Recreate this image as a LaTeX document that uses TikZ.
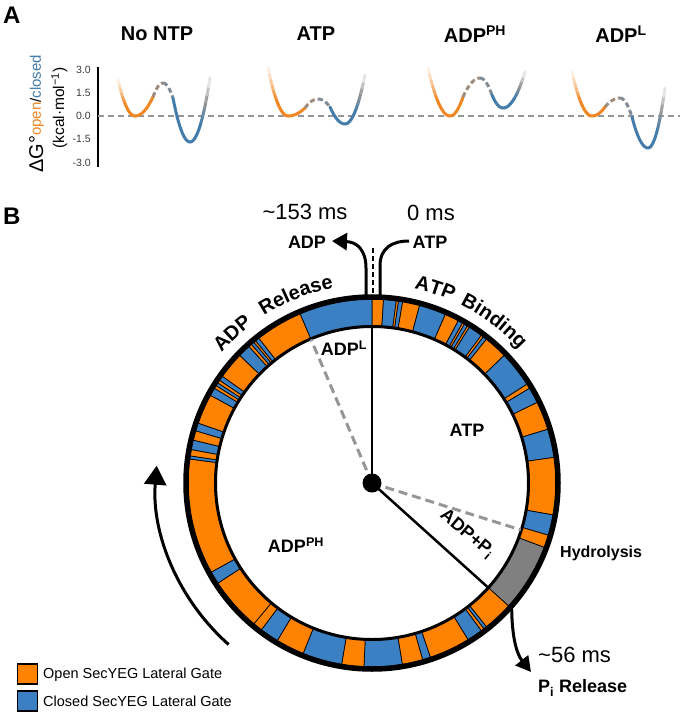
\documentclass[tikz,border=0pt]{standalone}
\usepackage{fontspec}
\setmainfont{Liberation Sans}
\usetikzlibrary{arrows.meta,decorations.text}
\definecolor{ringO}{RGB}{255,131,0}
\definecolor{ringB}{RGB}{58,128,194}
\definecolor{ringG}{RGB}{128,128,128}
\definecolor{curO}{RGB}{240,135,35}
\definecolor{curB}{RGB}{68,125,172}
\definecolor{curG}{RGB}{150,150,150}
\definecolor{barrL}{RGB}{160,140,125}
\definecolor{barrR}{RGB}{130,140,152}
\definecolor{dashG}{RGB}{150,150,150}
\definecolor{tickC}{RGB}{60,60,60}
\begin{document}
\begin{tikzpicture}[x=1pt,y=-1pt,
  curve/.style={line width=3pt, line cap=round},
  boldlab/.style={font=\fontsize{18}{20}\selectfont\bfseries, inner sep=0pt},
  ttl/.style={font=\fontsize{20}{22}\selectfont\bfseries, inner sep=0pt},
  panlab/.style={font=\fontsize{24}{26}\selectfont\bfseries, inner sep=0pt, anchor=west},
  ticklab/.style={font=\fontsize{10.5}{12}\selectfont, text=tickC, anchor=east, inner sep=0pt},
  timelab/.style={font=\fontsize{22}{24}\selectfont, inner sep=0pt},
  legtext/.style={font=\fontsize{14.5}{16}\selectfont, anchor=west, inner sep=0pt},
  legbox/.style={draw=black, line width=1.2pt, minimum size=20pt, inner sep=0pt},
  sector/.style={draw=black, line width=0.7pt},
  gdash/.style={draw=dashG, line width=3pt, dash pattern=on 9pt off 5pt},
  blk/.style={line width=3pt},
  ]
\useasboundingbox (0,0) rectangle (680,713);
\fill[white] (0,0) rectangle (680,713);

% ---------------- Panel A ----------------
\node[panlab] (A) at (3,15) {A};
\node[ttl] (t1) at (157,34) {No NTP};
\node[ttl] (t2) at (316,34) {ATP};
\node[ttl] (t3) at (475,34) {ADP\textsuperscript{PH}};
\node[ttl] (t4) at (621,34) {ADP\textsuperscript{L}};

\coordinate (axT) at (98,67);
\coordinate (axB) at (98,167);
\draw[line width=1.5pt] (axT) -- (axB);
\coordinate (zL) at (98,116);
\coordinate (zR) at (680,116);
\draw[dashG, line width=1.2pt, dash pattern=on 6pt off 4pt] (zL) -- (zR);
\node[ticklab] (k1) at (91,69.5) {3.0};
\node[ticklab] (k2) at (91,92.75) {1.5};
\node[ticklab] (k3) at (91,116) {0.0};
\node[ticklab] (k4) at (91,139.25) {-1.5};
\node[ticklab] (k5) at (91,162.5) {-3.0};

\node[rotate=90, anchor=base, inner sep=0pt] (ylab1) at (43,114)
  {\fontsize{20}{22}\selectfont ΔG°\raisebox{2pt}{\fontsize{15}{16}\selectfont\textcolor{curO}{open}/\textcolor{curB}{closed}}};
\node[rotate=90, anchor=base, inner sep=0pt] (ylab2) at (64,108)
  {\fontsize{15.5}{16}\selectfont (kcal·mol\textsuperscript{−1})};

\foreach \xl/\yl/\xo/\xa/\ya/\xp/\yp/\xb/\yb/\xm/\ym/\xr/\yr in {
  118/80/135/153/97/163/83/173/98/190/142/210/78,
  268/68/288/305/108/318/99/330/107/345/124/365/75,
  428/68/450/463/97/480/78/492/95/503/108/525/72,
  572/72/592/605/107/620/98/632/117/648/148/665/88}{
  % orange left branch, fading towards the top
  \foreach \j in {0,...,13}{
    \pgfmathsetmacro\ta{\j/14}
    \pgfmathsetmacro\tb{(\j+1)/14}
    \pgfmathsetmacro\ff{min(100,5+220*(\j+0.5)/14)}
    \draw[curve, draw=curO!\ff!white] plot[domain=\ta:\tb, samples=4]
      ({\xl+\x*(\xo-\xl)},{116-(116-\yl)*(1-\x)^2});
  }
  % orange right branch
  \draw[curve, draw=curO] plot[domain=0:1, samples=12]
      ({\xo+\x*(\xa-\xo)},{116-(116-\ya)*\x^2});
  % dashed barrier
  \draw[line width=3pt, draw=barrL, dash pattern=on 5pt off 3pt]
      plot[domain=0:1, samples=10] ({\xa+\x*(\xp-\xa)},{\yp+(\ya-\yp)*(1-\x)^2});
  \draw[line width=3pt, draw=barrR, dash pattern=on 5pt off 3pt]
      plot[domain=0:1, samples=10] ({\xp+\x*(\xb-\xp)},{\yp+(\yb-\yp)*\x^2});
  % blue left branch
  \draw[curve, draw=curB] plot[domain=0:1, samples=12]
      ({\xb+\x*(\xm-\xb)},{\ym-(\ym-\yb)*(1-\x)^2});
  % blue right branch, greying and fading
  \foreach \j in {0,...,13}{
    \pgfmathsetmacro\ta{\j/14}
    \pgfmathsetmacro\tb{(\j+1)/14}
    \pgfmathsetmacro\tm{(\j+0.5)/14}
    \pgfmathsetmacro\pp{max(0,min(100,100*(0.8-\tm)/0.25))}
    \pgfmathsetmacro\qq{max(8,min(100,100-92*(\tm-0.8)/0.2))}
    \draw[curve, draw=curB!\pp!curG!\qq!white] plot[domain=\ta:\tb, samples=4]
      ({\xm+\x*(\xr-\xm)},{\ym-(\ym-\yr)*\x^2});
  }
}

% ---------------- Panel B ----------------
\node[panlab] (B) at (3,216) {B};

\begin{scope}[shift={(372,483)}]
\foreach \a/\b/\col in {0/3.6/ringO, 3.6/7.6/ringB, 7.6/8.3/ringO, 8.3/9.6/ringB, 9.6/15/ringO,
  15/23.5/ringB, 23.5/28/ringO, 28/29.5/ringB, 29.5/30.2/ringO, 30.2/31.3/ringB, 31.3/32/ringO,
  32/36.5/ringB, 36.5/37.3/ringO, 37.3/38.5/ringB, 38.5/46/ringO, 46/57.5/ringB, 57.5/59/ringO,
  59/64/ringB, 64/73/ringO, 73/82/ringB, 82/100/ringO, 100/106.5/ringB, 106.5/110.5/ringO,
  110.5/132/ringG, 132/141.5/ringO, 141.5/142.5/ringB, 142.5/143.5/ringO, 143.5/148.5/ringB,
  148.5/161.5/ringO, 161.5/164/ringB, 164/170.5/ringO, 170.5/182.5/ringB, 182.5/189.5/ringO,
  189.5/202/ringB, 202/211/ringO, 211/217/ringB, 217/220/ringO, 220/237/ringO, 237/241/ringB,
  241/277.5/ringO, 277.5/278.5/ringB, 278.5/280.5/ringO, 280.5/283.5/ringB, 283.5/286.5/ringO,
  286.5/289/ringB, 289/298.5/ringO, 298.5/301/ringB, 301/302/ringO, 302/303/ringB, 303/304/ringO,
  304/305.5/ringB, 305.5/314/ringO, 314/318/ringB, 318/319/ringO, 319/320/ringB, 320/320.7/ringO,
  320.7/322/ringB, 322/337/ringO, 337/360/ringB}{
  \filldraw[fill=\col, sector] ({\a-90}:157) arc[start angle={\a-90}, end angle={\b-90}, radius=157]
     -- ({\b-90}:184) arc[start angle={\b-90}, end angle={\a-90}, radius=184] -- cycle;
}
\draw[line width=3pt] (0,0) circle[radius=156.5];
\draw[line width=5.5pt] (0,0) circle[radius=186];

\coordinate (ctr) at (0,0);
\coordinate (eTop) at (-90:156);
\coordinate (ePi) at (42:156);
\coordinate (eHyd) at (17.5:156);
\coordinate (eADPL) at (247:156);
\draw[gdash] (ctr) -- (eHyd);
\draw[gdash] (ctr) -- (eADPL);
\draw[line width=2.5pt] (ctr) -- (eTop);
\draw[line width=2.5pt] (ctr) -- (ePi);
\node[circle, fill=black, minimum size=19pt, inner sep=0pt] (dot) at (ctr) {};

% curved ring labels
\path[decorate, decoration={text along path, text align=center,
  text={|\fontsize{20}{20}\selectfont\bfseries|ADP}}]
  (207:199) arc[start angle=207, end angle=247, radius=199];
\path[decorate, decoration={text along path, text align=center,
  text={|\fontsize{20}{20}\selectfont\bfseries|Release}}]
  (224:199) arc[start angle=224, end angle=272, radius=199];
\path[decorate, decoration={text along path, text align=center,
  text={|\fontsize{20}{20}\selectfont\bfseries|ATP}}]
  (-92:199) arc[start angle=-92, end angle=-52, radius=199];
\path[decorate, decoration={text along path, text align=center,
  text={|\fontsize{20}{20}\selectfont\bfseries|Binding}}]
  (-77:199) arc[start angle=-77, end angle=-29, radius=199];

% big cycle arrow
\coordinate (cycS) at (131.6:216);
\draw[blk, -{Triangle[length=19pt,width=22pt]}] (cycS) arc[start angle=131.6, end angle=184.6, radius=216];
\end{scope}

% inner labels
\node[boldlab] (lADPL) at (344,348) {ADP\textsuperscript{L}};
\node[boldlab] (lATP) at (467,430) {ATP};
\node[boldlab] (lADPPH) at (296,545) {ADP\textsuperscript{PH}};
\node[boldlab, rotate=-40] (lADPPi) at (467,534) {ADP+P\textsubscript{i}};

% top arrows
\node[timelab] (t153) at (305,212) {\textasciitilde153 ms};
\node[timelab] (t0) at (431,213) {0 ms};
\node[boldlab] (adpT) at (307,242) {ADP};
\node[boldlab] (atpT) at (430,242) {ATP};
\coordinate (adpS) at (366,296);
\coordinate (adpE) at (332,241);
\coordinate (atpS) at (409,241);
\coordinate (atpE) at (380,296);
\coordinate (dTop) at (373,248);
\coordinate (dBot) at (373,296);
\draw[blk, -{Triangle[length=15pt,width=17pt]}] (adpS) -- (366,268) .. controls (366,250) and (357,242) .. (adpE);
\draw[blk] (atpS) .. controls (392,241) and (380,248) .. (380,266) -- (atpE);
\draw[line width=2.5pt, dash pattern=on 5pt off 3pt] (dTop) -- (dBot);

% Pi release
\coordinate (piS) at (511.7,608.8);
\coordinate (piE) at (531,672);
\draw[blk, -{Triangle[length=15pt,width=16pt]}] (piS) .. controls (512,635) and (516,653) .. (piE);
\node[font=\fontsize{16}{18}\selectfont\bfseries, anchor=west, inner sep=0pt] (hyd) at (560,553) {Hydrolysis};
\node[timelab, anchor=west] (t56) at (538,655) {\textasciitilde56 ms};
\node[boldlab, anchor=west] (pir) at (538,688) {P\textsubscript{i} Release};

% legend
\node[legbox, fill=ringO] (lgO) at (27.5,674) {};
\node[legbox, fill=ringB] (lgB) at (27.5,701) {};
\node[legtext] (lgOt) at (43,675) {Open SecYEG Lateral Gate};
\node[legtext] (lgBt) at (43,701) {Closed SecYEG Lateral Gate};
\end{tikzpicture}
\end{document}
